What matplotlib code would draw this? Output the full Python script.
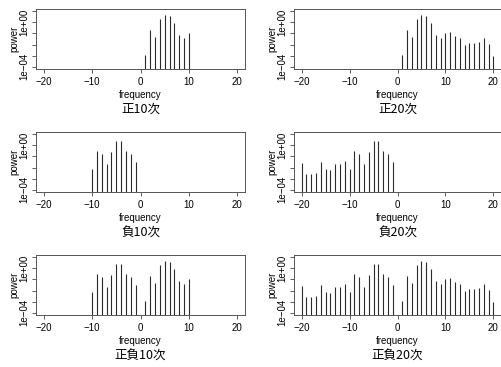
import numpy as np
import matplotlib
matplotlib.use('Agg')
import matplotlib.pyplot as plt

# power spectrum (log10 of power)
pos_freq = list(range(1, 21))
pos_log_power = [-2.92, -0.66, -1.34, 0.31, 0.67, 0.53, -0.03, -1.18, -1.37, -0.94,
                 -0.84, -1.25, -1.43, -2.02, -1.88, -1.88, -1.79, -1.40, -1.94, -3.05]
neg_freq = list(range(-20, 0))
neg_log_power = [-1.56, -2.60, -2.54, -2.45, -1.53, -2.10, -2.18, -1.71, -1.68, -1.44,
                 -2.10, -0.50, -0.76, -1.72, -0.64, 0.42, 0.37, -0.50, -0.75, -1.48]

titles = ['正10次', '正20次', '負10次', '負20次', '正負10次', '正負20次']
xticks = [-20, -10, 0, 10, 20]
xticklabels = ['\u221220', '\u221210', '0', '10', '20']
yticks = [1e-4, 1e-3, 1e-2, 1e-1, 1e0, 1e1]
yticklabels = ['1e\u221204', '', '', '', '1e+00', '']

plt.rcParams['font.family'] = ['Liberation Sans', 'DejaVu Sans']


def select(kind, n):
    f, p = [], []
    if 'neg' in kind:
        for fr, lp in zip(neg_freq, neg_log_power):
            if fr >= -n:
                f.append(fr)
                p.append(10 ** lp)
    if 'pos' in kind:
        for fr, lp in zip(pos_freq, pos_log_power):
            if fr <= n:
                f.append(fr)
                p.append(10 ** lp)
    return f, p


panels = [('pos', 10), ('pos', 20), ('neg', 10), ('neg', 20), ('negpos', 10), ('negpos', 20)]

W, H = 502, 367
fig = plt.figure(figsize=(W / 100, H / 100), dpi=100)
col_x = [(36, 209), (294, 207)]
row_top = [9, 132, 255]
box_h = 60

for i, ((kind, n), title) in enumerate(zip(panels, titles)):
    r, c = divmod(i, 2)
    x0, w = col_x[c]
    top = row_top[r]
    ax = fig.add_axes([x0 / W, 1 - (top + box_h) / H, w / W, box_h / H])
    f, p = select(kind, n)
    ax.vlines(f, 1e-6, p, color='#2a2a2a', lw=0.8)
    ax.set_yscale('log')
    ax.set_xlim(-21.6, 21.6)
    ax.set_ylim(10 ** -4.2, 10 ** 1.2)
    ax.set_xticks(xticks)
    ax.set_xticklabels(xticklabels, fontsize=7)
    ax.set_yticks(yticks)
    ax.set_yticklabels(yticklabels, fontsize=7, rotation=90, va='center')
    ax.yaxis.set_minor_locator(matplotlib.ticker.NullLocator())
    ax.tick_params(length=3, width=0.6, color='#444444', pad=2)
    ax.tick_params(axis='x', pad=3)
    for s in ax.spines.values():
        s.set_color('#555555')
        s.set_linewidth(0.7)
    ax.set_xlabel('frequency', fontsize=7, labelpad=2)
    ax.set_ylabel('power', fontsize=7, labelpad=0)
    ax.text(0.5, -40 / box_h, title, transform=ax.transAxes, ha='center', va='center',
            fontsize=9, family=['Noto Sans CJK JP', 'DejaVu Sans'])

fig.savefig('out.png', dpi=100)
